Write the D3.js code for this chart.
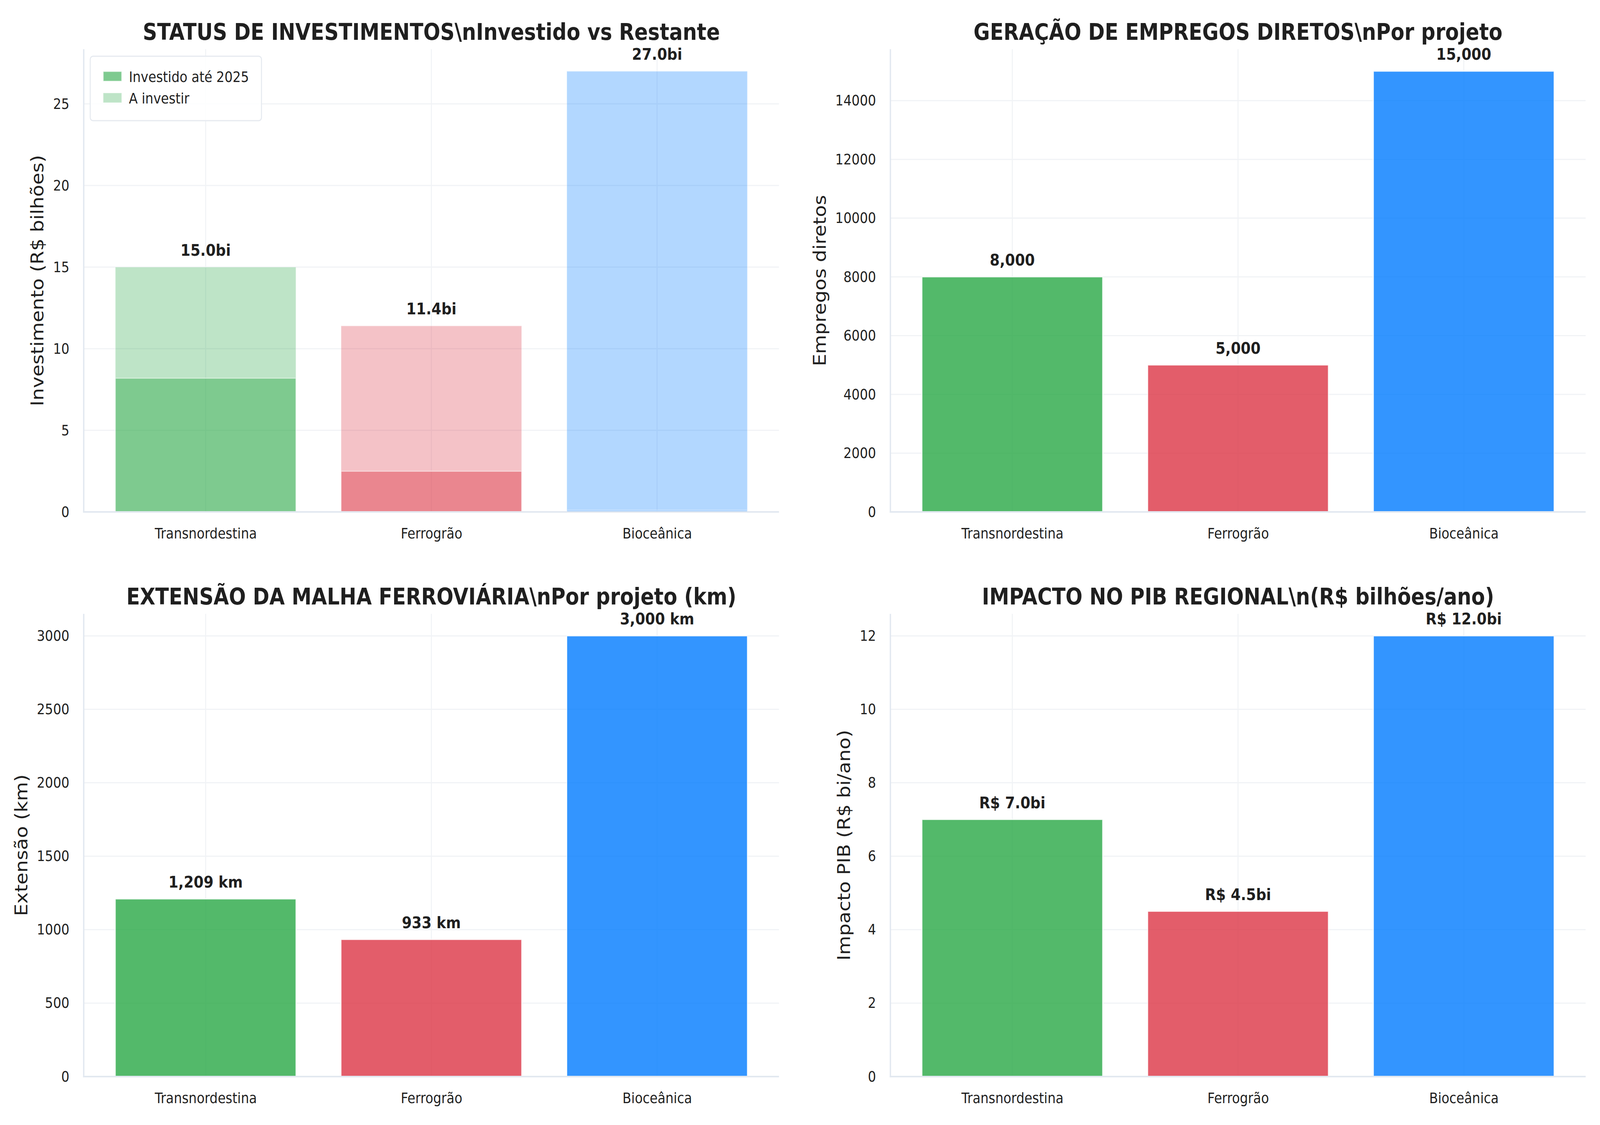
<!DOCTYPE html>
<html>
<head>
<meta charset="utf-8">
<script src="https://cdn.jsdelivr.net/npm/d3@7"></script>
<style>
  html, body { margin: 0; padding: 0; background: #fff; overflow: hidden; }
  svg { display: block; font-family: "DejaVu Sans", sans-serif; }
</style>
</head>
<body>
<div id="chart"></div>
<script>
// dados
const projetos = ["Transnordestina", "Ferrogrão", "Bioceânica"];
const cores = ["#28a745", "#dc3545", "#007bff"];
const investTotal = [15.0, 11.4, 27.0];
const investido = [8.2, 2.5, 0.1];
const empregos = [8000, 5000, 15000];
const extensao = [1209, 933, 3000];
const impactoPib = [7.0, 4.5, 12.0];

const ticksInvest = [0, 5, 10, 15, 20, 25];
const ticksEmpregos = [0, 2000, 4000, 6000, 8000, 10000, 12000, 14000];
const ticksExtensao = [0, 500, 1000, 1500, 2000, 2500, 3000];
const ticksPib = [0, 2, 4, 6, 8, 10, 12];

const legendaLabels = ["Investido até 2025", "A investir"];

const W = 4681, H = 2881;
const textColor = "#1f1f1f";
const spineColor = "#e2e8f0";
const gridColor = "#f1f3f6";

// viewBox esticado para ocupar a janela inteira
const svg = d3.select("#chart").append("svg")
  .attr("viewBox", `0 0 ${W} ${H}`)
  .attr("preserveAspectRatio", "none")
  .style("width", "100vw")
  .style("height", "100vh");

// cria um painel: eixos, grade, títulos; devolve as escalas
function painel(box, ymax, ticks, title, ylabel) {
  const g = svg.append("g");
  const x = d3.scaleLinear().domain([-0.54, 2.54]).range([box.left, box.right]);
  const y = d3.scaleLinear().domain([0, ymax * 1.05]).range([box.bottom, box.top]);

  // grade
  g.append("g").selectAll("line").data(ticks).join("line")
    .attr("x1", box.left).attr("x2", box.right)
    .attr("y1", d => y(d)).attr("y2", d => y(d))
    .attr("stroke", gridColor).attr("stroke-width", 3);
  g.append("g").selectAll("line").data(d3.range(projetos.length)).join("line")
    .attr("x1", d => x(d)).attr("x2", d => x(d))
    .attr("y1", box.top).attr("y2", box.bottom)
    .attr("stroke", gridColor).attr("stroke-width", 3);

  // eixo y
  const yAxis = g.append("g")
    .attr("transform", `translate(${box.left},0)`)
    .call(d3.axisLeft(y).tickValues(ticks).tickSize(0).tickPadding(42).tickFormat(d3.format("d")));
  yAxis.select(".domain").remove();
  yAxis.selectAll("text")
    .attr("font-size", 37.5).attr("fill", textColor)
    .attr("font-family", "DejaVu Sans");

  // eixo x
  const xAxis = g.append("g")
    .attr("transform", `translate(0,${box.bottom})`)
    .call(d3.axisBottom(x).tickValues(d3.range(projetos.length)).tickSize(0).tickPadding(41)
      .tickFormat(i => projetos[i]));
  xAxis.select(".domain").remove();
  xAxis.selectAll("text")
    .attr("font-size", 37.5).attr("fill", textColor)
    .attr("font-family", "DejaVu Sans");

  // título
  g.append("text")
    .attr("x", (box.left + box.right) / 2)
    .attr("y", box.top - 24)
    .attr("text-anchor", "middle")
    .attr("font-size", 58.3).attr("font-weight", "bold")
    .attr("fill", textColor)
    .text(title);

  // rótulo do eixo y, à esquerda dos números
  const bb = yAxis.node().getBBox();
  const cy = (box.top + box.bottom) / 2;
  const lx = box.left + bb.x - 28;
  g.append("text")
    .attr("transform", `translate(${lx},${cy}) rotate(-90)`)
    .attr("text-anchor", "middle")
    .attr("font-size", 50)
    .attr("fill", textColor)
    .text(ylabel);

  const barsG = svg.append("g");
  const spines = svg.append("g");
  spines.append("line")
    .attr("x1", box.left).attr("x2", box.left)
    .attr("y1", box.top).attr("y2", box.bottom + 2)
    .attr("stroke", spineColor).attr("stroke-width", 4);
  spines.append("line")
    .attr("x1", box.left - 2).attr("x2", box.right)
    .attr("y1", box.bottom).attr("y2", box.bottom)
    .attr("stroke", spineColor).attr("stroke-width", 4);

  return { x, y, g: barsG };
}

function barras(p, values, bases, alpha) {
  const bw = p.x(0.4) - p.x(-0.4);
  p.g.append("g").selectAll("rect").data(values).join("rect")
    .attr("x", (d, i) => p.x(i) - bw / 2)
    .attr("y", (d, i) => p.y(bases[i] + d))
    .attr("width", bw)
    .attr("height", (d, i) => p.y(bases[i]) - p.y(bases[i] + d))
    .attr("fill", (d, i) => cores[i])
    .attr("fill-opacity", alpha)
    .attr("stroke", "#fff")
    .attr("stroke-opacity", alpha)
    .attr("stroke-width", 2.5);
}

function rotulos(p, values, fmt) {
  p.g.append("g").selectAll("text").data(values).join("text")
    .attr("x", (d, i) => p.x(i))
    .attr("y", d => p.y(d) - 29)
    .attr("text-anchor", "middle")
    .attr("font-size", 41.7).attr("font-weight", "bold")
    .attr("fill", textColor)
    .text(fmt);
}

const boxTL = { left: 245, right: 2279, top: 126, bottom: 1311 };
const boxTR = { left: 2605, right: 4639, top: 126, bottom: 1311 };
const boxBL = { left: 245, right: 2279, top: 1572, bottom: 2757 };
const boxBR = { left: 2605, right: 4639, top: 1572, bottom: 2757 };
const zeros = projetos.map(() => 0);

// 1. status de investimentos (empilhado)
const p1 = painel(boxTL, d3.max(investTotal), ticksInvest,
  "STATUS DE INVESTIMENTOS\\nInvestido vs Restante", "Investimento (R$ bilhões)");
barras(p1, investido, zeros, 0.6);
barras(p1, investTotal.map((t, i) => t - investido[i]), investido, 0.3);
rotulos(p1, investTotal, d => d.toFixed(1) + "bi");

// legenda
const leg = svg.append("g");
leg.append("rect")
  .attr("x", 264).attr("y", 144).attr("width", 501).attr("height", 165).attr("rx", 8)
  .attr("fill", "#fff").attr("fill-opacity", 0.85)
  .attr("stroke", "#e6eaf0").attr("stroke-width", 3);
const legAlpha = [0.6, 0.3];
legendaLabels.forEach((lab, k) => {
  leg.append("rect")
    .attr("x", 302).attr("y", 183 + k * 55).attr("width", 54).attr("height", 25)
    .attr("fill", cores[0]).attr("fill-opacity", legAlpha[k])
    .attr("stroke", "#fff").attr("stroke-opacity", legAlpha[k]).attr("stroke-width", 2.5);
  leg.append("text")
    .attr("x", 377).attr("y", 210 + k * 55)
    .attr("font-size", 37.5).attr("fill", textColor)
    .text(lab);
});

// 2. empregos
const p2 = painel(boxTR, d3.max(empregos), ticksEmpregos,
  "GERAÇÃO DE EMPREGOS DIRETOS\\nPor projeto", "Empregos diretos");
barras(p2, empregos, zeros, 0.8);
rotulos(p2, empregos, d => d3.format(",")(d));

// 3. extensão
const p3 = painel(boxBL, d3.max(extensao), ticksExtensao,
  "EXTENSÃO DA MALHA FERROVIÁRIA\\nPor projeto (km)", "Extensão (km)");
barras(p3, extensao, zeros, 0.8);
rotulos(p3, extensao, d => d3.format(",")(d) + " km");

// 4. impacto no PIB
const p4 = painel(boxBR, d3.max(impactoPib), ticksPib,
  "IMPACTO NO PIB REGIONAL\\n(R$ bilhões/ano)", "Impacto PIB (R$ bi/ano)");
barras(p4, impactoPib, zeros, 0.8);
rotulos(p4, impactoPib, d => "R$ " + d.toFixed(1) + "bi");
</script>
</body>
</html>
